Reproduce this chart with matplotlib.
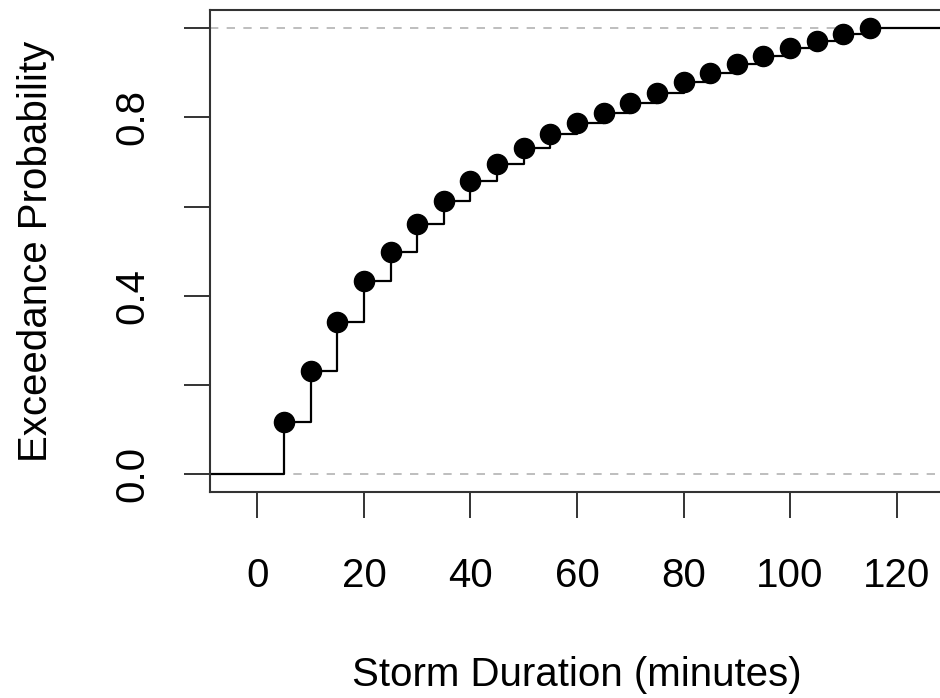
import matplotlib
matplotlib.use("Agg")
import matplotlib.pyplot as plt
import numpy as np

plt.rcParams['font.family'] = ['Liberation Sans', 'DejaVu Sans']

durations = [5, 10, 15, 20, 25, 30, 35, 40, 45, 50, 55, 60,
             65, 70, 75, 80, 85, 90, 95, 100, 105, 110, 115]
prob = [0.116, 0.232, 0.342, 0.434, 0.499, 0.562, 0.612, 0.658, 0.696, 0.732,
        0.762, 0.787, 0.811, 0.833, 0.856, 0.879, 0.900, 0.919, 0.938, 0.955,
        0.971, 0.987, 1.0]
xticks = [0, 20, 40, 60, 80, 100, 120]
yticks = [0.0, 0.2, 0.4, 0.6, 0.8, 1.0]
ylabels = ['0.0', '', '0.4', '', '0.8', '']

xlo, xhi = -8.9, 128.9

fig = plt.figure(figsize=(9.4, 6.98), dpi=100)
ax = fig.add_axes([0.2234, 0.2951, 0.7809, 0.6899])

# reference lines at 0 and 1 like R's ecdf plot
for h in (0, 1):
    ax.axhline(h, color='#b3b3b3', lw=1.2, ls=(0, (5, 5)), zorder=1)

# step function
sx = [xlo] + durations + [xhi]
sy = [0] + prob + [prob[-1]]
ax.step(sx, sy, where='post', color='black', lw=1.6, zorder=2)
ax.plot(durations, prob, 'o', color='black', ms=14.5, zorder=3)

ax.set_xlim(xlo, xhi)
ax.set_ylim(-0.04, 1.04)
ax.set_xticks(xticks)
ax.set_yticks(yticks)
ax.set_yticklabels(ylabels, rotation=90, va='center')
ax.tick_params(axis='both', labelsize=29, length=19, width=1.4,
               color='#333333', direction='out')
ax.tick_params(axis='y', pad=23)
ax.tick_params(axis='x', pad=28)
for sp in ax.spines.values():
    sp.set_linewidth(1.5)
    sp.set_color('#333333')

ax.set_xlabel('Storm Duration (minutes)', fontsize=29, labelpad=44)
ax.set_ylabel('Exceedance Probability', fontsize=29, labelpad=42)

fig.savefig('out.png', dpi=100)
